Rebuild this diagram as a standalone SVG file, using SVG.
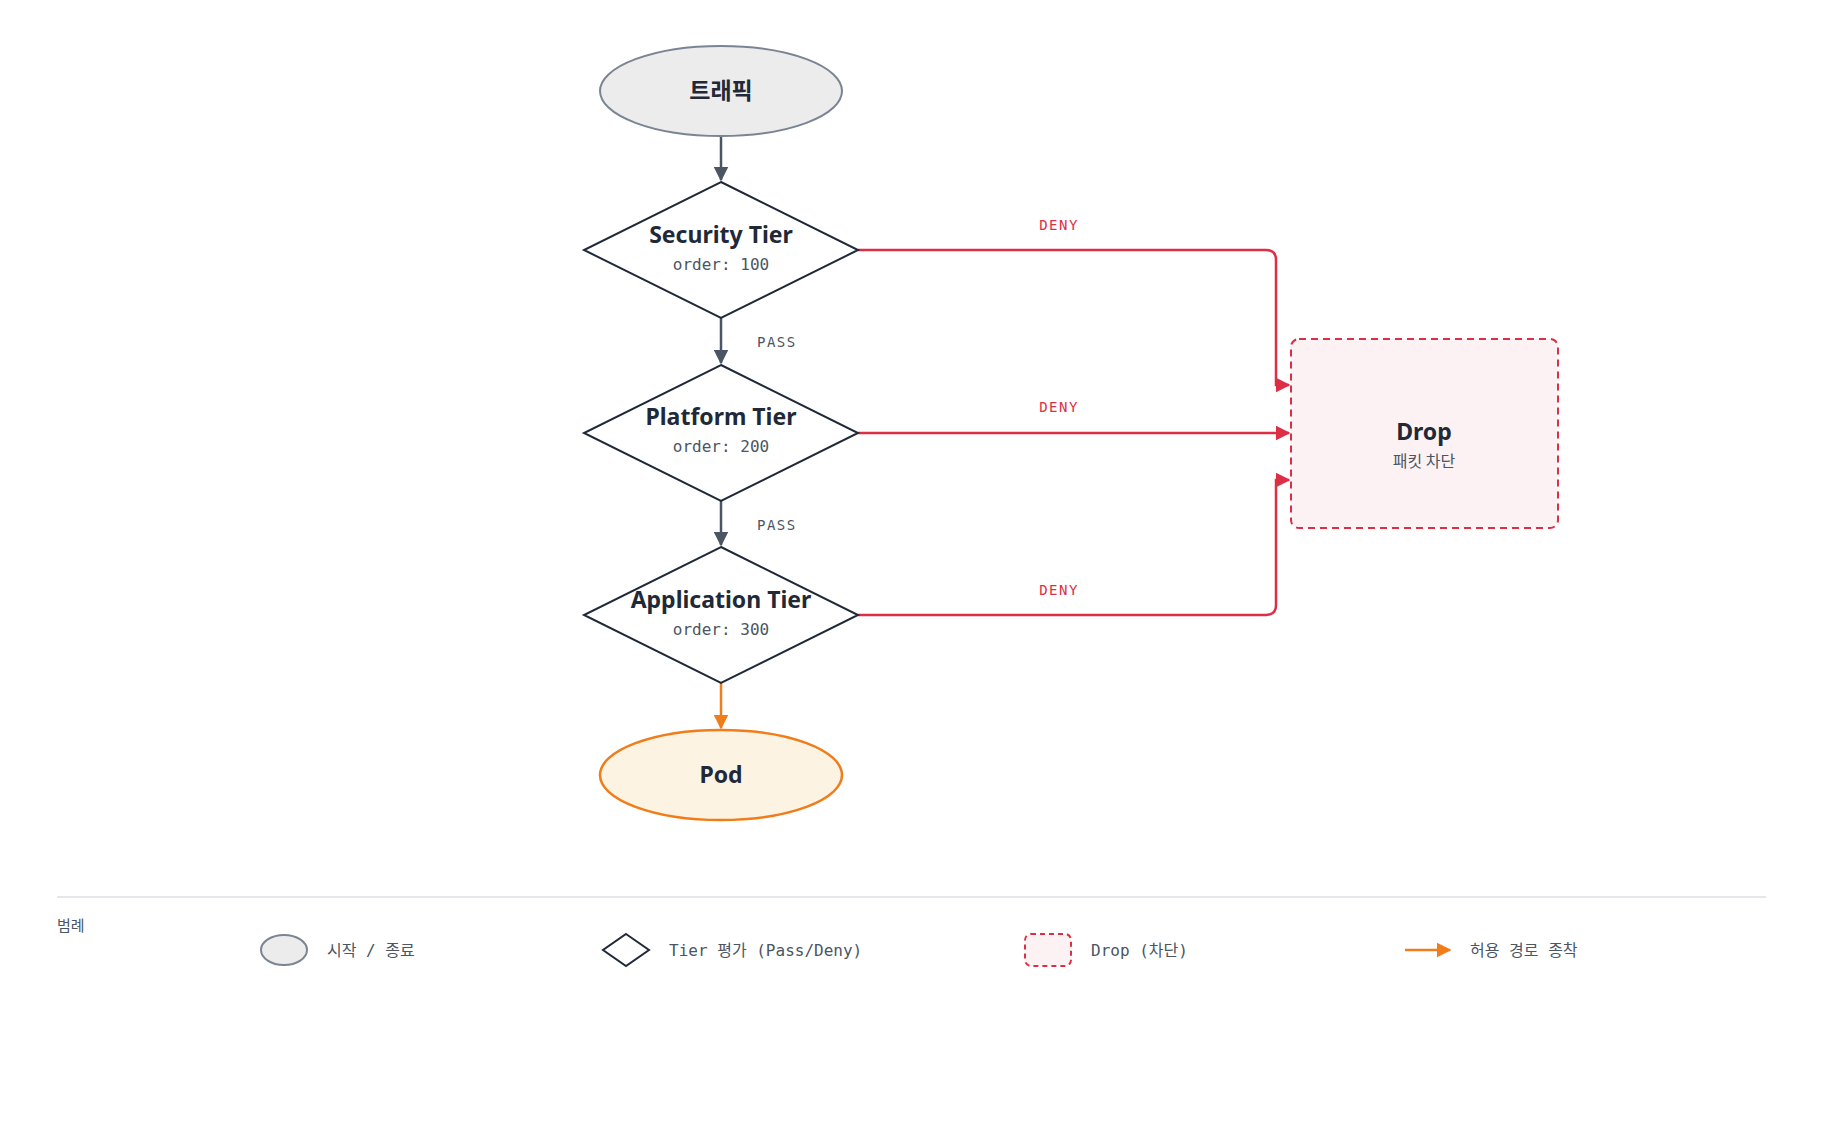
<svg xmlns="http://www.w3.org/2000/svg" width="1824" height="1140" viewBox="0 0 1824 1140">
<style>
.t{font-family:"Noto Sans","Noto Sans CJK KR",sans-serif;font-weight:700;font-size:23px;fill:#1f2937;text-anchor:middle}
.m{font-family:"DejaVu Sans Mono","Liberation Mono","Noto Sans CJK KR",monospace;font-size:16px;fill:#4b5563;text-anchor:middle}
.lbl{font-family:"DejaVu Sans Mono","Liberation Mono",monospace;font-size:14px;letter-spacing:1.5px}
.lg{font-family:"DejaVu Sans Mono","Liberation Mono","Noto Sans CJK KR",monospace;font-size:16px;fill:#4b5563}
.dia{fill:#fff;stroke:#1f2937;stroke-width:2}
.g{fill:none;stroke:#4b5563;stroke-width:2.5}
.r{fill:none;stroke:#dc2f45;stroke-width:2.5}
.o{fill:none;stroke:#f07c1a;stroke-width:2.5}
</style>
<defs>
<marker id="ag" viewBox="0 0 10 10" refX="9" refY="5" markerWidth="6" markerHeight="6" orient="auto" markerUnits="strokeWidth"><path d="M0,0L10,5L0,10z" fill="#4b5563"/></marker>
<marker id="ar" viewBox="0 0 10 10" refX="9" refY="5" markerWidth="6" markerHeight="6" orient="auto" markerUnits="strokeWidth"><path d="M0,0L10,5L0,10z" fill="#dc2f45"/></marker>
<marker id="ao" viewBox="0 0 10 10" refX="9" refY="5" markerWidth="6" markerHeight="6" orient="auto" markerUnits="strokeWidth"><path d="M0,0L10,5L0,10z" fill="#f07c1a"/></marker>
</defs>
<g id="connectors">
<path class="g" d="M721,136V180" marker-end="url(#ag)"/>
<path class="g" d="M721,318V363" marker-end="url(#ag)"/>
<path class="g" d="M721,501V545" marker-end="url(#ag)"/>
<path class="o" d="M721,683V728" marker-end="url(#ao)"/>
<path class="r" d="M858,250H1266Q1276,250 1276,260V385H1289" marker-end="url(#ar)"/>
<path class="r" d="M858,433H1289" marker-end="url(#ar)"/>
<path class="r" d="M858,615H1266Q1276,615 1276,605V480H1289" marker-end="url(#ar)"/>
<text class="lbl" x="1059" y="230" fill="#dc2f45" text-anchor="middle">DENY</text>
<text class="lbl" x="1059" y="412" fill="#dc2f45" text-anchor="middle">DENY</text>
<text class="lbl" x="1059" y="595" fill="#dc2f45" text-anchor="middle">DENY</text>
<text class="lbl" x="757" y="347" fill="#4b5563">PASS</text>
<text class="lbl" x="757" y="530" fill="#4b5563">PASS</text>
</g>
<g id="traffic"><ellipse cx="721" cy="91" rx="121" ry="45" fill="#ececec" stroke="#7a8494" stroke-width="2"/><text class="t" x="721" y="99">트래픽</text></g>
<g id="security"><path class="dia" d="M721,182L858,250L721,318L584,250Z"/><text class="t" x="721" y="243">Security Tier</text><text class="m" x="721" y="270">order: 100</text></g>
<g id="platform"><path class="dia" d="M721,365L858,433L721,501L584,433Z"/><text class="t" x="721" y="425">Platform Tier</text><text class="m" x="721" y="452">order: 200</text></g>
<g id="application"><path class="dia" d="M721,547L858,615L721,683L584,615Z"/><text class="t" x="721" y="608">Application Tier</text><text class="m" x="721" y="635">order: 300</text></g>
<g id="pod"><ellipse cx="721" cy="775" rx="121" ry="45" fill="#fdf3e3" stroke="#f07c1a" stroke-width="2.5"/><text class="t" x="721" y="783">Pod</text></g>
<g id="drop"><rect x="1291" y="339" width="267" height="189" rx="8" fill="#fdf2f3" stroke="#dc2f45" stroke-width="2" stroke-dasharray="7,5"/><text class="t" x="1424" y="440">Drop</text><text x="1424" y="467" text-anchor="middle" font-family="Noto Sans CJK KR,sans-serif" font-size="16" fill="#4b5563">패킷 차단</text></g>
<g id="legend">
<line x1="57" y1="897" x2="1766" y2="897" stroke="#e5e7eb" stroke-width="2"/>
<text x="57" y="931" font-family="Noto Sans CJK KR,sans-serif" font-size="15" fill="#4b5563">범례</text>
<ellipse cx="284" cy="950" rx="23" ry="15" fill="#ececec" stroke="#7a8494" stroke-width="2"/>
<text class="lg" x="327" y="956">시작 / 종료</text>
<path class="dia" d="M626,934L649,950L626,966L603,950Z"/>
<text class="lg" x="669" y="956">Tier 평가 (Pass/Deny)</text>
<rect x="1025" y="934" width="46" height="32" rx="6" fill="#fdf2f3" stroke="#dc2f45" stroke-width="2" stroke-dasharray="5,4"/>
<text class="lg" x="1091" y="956">Drop (차단)</text>
<path class="o" d="M1405,950H1450" marker-end="url(#ao)"/>
<text class="lg" x="1470" y="956">허용 경로 종착</text>
</g>
</svg>
